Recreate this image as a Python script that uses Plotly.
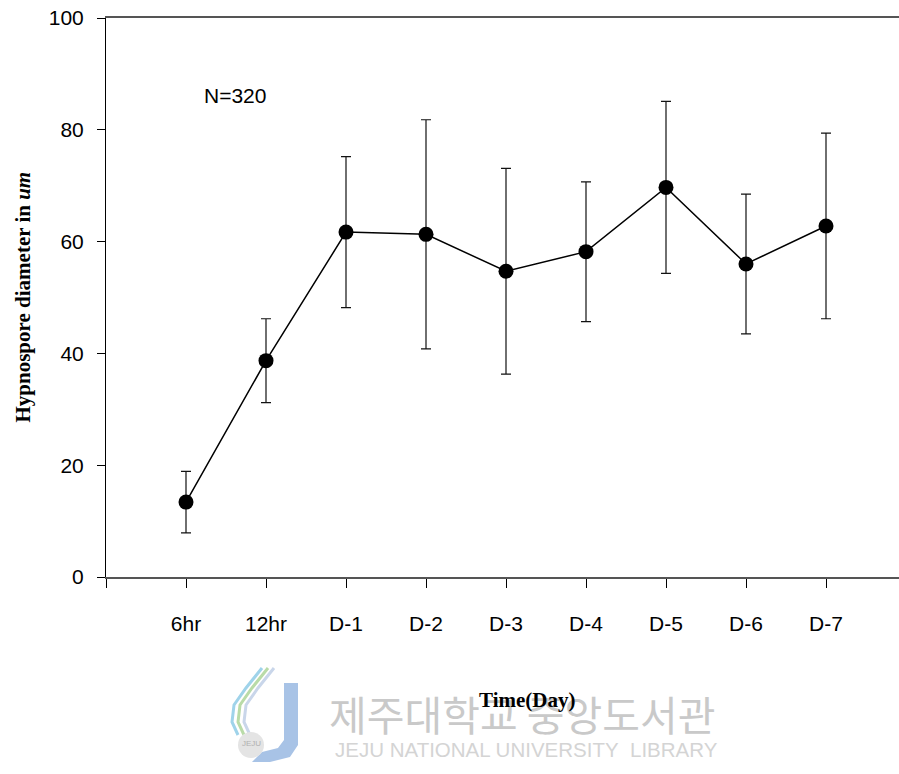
import plotly.graph_objects as go

# ---- data ----
categories = ["6hr", "12hr", "D-1", "D-2", "D-3", "D-4", "D-5", "D-6", "D-7"]
mean_diameter = [13.4, 38.7, 61.7, 61.3, 54.7, 58.2, 69.7, 56.0, 62.8]
std_dev = [5.5, 7.5, 13.5, 20.5, 18.4, 12.5, 15.4, 12.5, 16.6]
y_ticks = [0, 20, 40, 60, 80, 100]
n_label = "N=320"

positions = list(range(1, len(categories) + 1))

W, H = 899, 774
ml, mr, mt, mb = 106, 0, 18, 197
px_per_unit = 80.0
x_max = (W - ml - mr) / px_per_unit

fig = go.Figure()
fig.add_trace(go.Scatter(
    x=positions, y=mean_diameter,
    mode="lines+markers",
    line=dict(color="black", width=1.5),
    marker=dict(color="black", size=15),
    error_y=dict(type="data", array=std_dev, visible=True,
                 color="#111111", thickness=1.2, width=5),
    showlegend=False,
))

tick_font = dict(family="Liberation Sans, Arial, sans-serif", size=21, color="black")

fig.update_layout(
    width=W, height=H,
    margin=dict(l=ml, r=mr, t=mt, b=mb, pad=0),
    paper_bgcolor="white", plot_bgcolor="white",
    xaxis=dict(
        range=[0, x_max],
        tickmode="array",
        tickvals=[0] + positions,
        ticktext=[""] + categories,
        ticks="outside", ticklen=9, tickwidth=1, tickcolor="black",
        showline=True, linecolor="#555555", linewidth=1.5,
        mirror=True,
        showgrid=False, zeroline=False,
        tickfont=tick_font,
        ticklabelstandoff=18,
    ),
    yaxis=dict(
        range=[0, 100],
        tickmode="array",
        tickvals=y_ticks,
        ticks="outside", ticklen=8, tickwidth=1, tickcolor="black",
        showline=True, linecolor="black", linewidth=1,
        showgrid=False, zeroline=False,
        tickfont=tick_font,
        ticklabelstandoff=9,
    ),
)

pw = W - ml - mr
ph = H - mt - mb


def px_to_paper(xp, yp):
    return (xp - ml) / pw, (H - mb - yp) / ph


annotations = []

# watermark (drawn first, behind)
xl, yl = px_to_paper(251, 743)
annotations.append(dict(x=xl, y=yl, xref="paper", yref="paper",
                        text="JEJU", showarrow=False,
                        font=dict(family="Liberation Sans, Arial, sans-serif", size=8, color="#b0b0b0"),
                        xanchor="center", yanchor="middle"))
xe, ye = px_to_paper(526, 749)
annotations.append(dict(x=xe, y=ye, xref="paper", yref="paper",
                        text="JEJU NATIONAL UNIVERSITY&nbsp;&nbsp;LIBRARY", showarrow=False,
                        font=dict(family="Liberation Sans, Arial, sans-serif", size=20.5, color="#d4d4d4"),
                        xanchor="center", yanchor="middle"))
xk, yk = px_to_paper(522, 713)
annotations.append(dict(x=xk, y=yk, xref="paper", yref="paper",
                        text="제주대학교 중앙도서관", showarrow=False,
                        font=dict(family="Noto Sans CJK KR", size=41, color="#c9c9c9"),
                        xanchor="center", yanchor="middle"))

annotations.append(dict(x=1.616, y=86.2, xref="x", yref="y", text=n_label, showarrow=False,
                        font=tick_font, xanchor="center", yanchor="middle"))

xt, yt = px_to_paper(22, 297.5)
annotations.append(dict(x=xt, y=yt, xref="paper", yref="paper",
                        text="<b>Hypnospore diameter in <i>um</i></b>",
                        textangle=-90, showarrow=False,
                        font=dict(family="Liberation Serif, Times New Roman, serif", size=21, color="black"),
                        xanchor="center", yanchor="middle"))

xt2, yt2 = px_to_paper(527, 700)
annotations.append(dict(x=xt2, y=yt2, xref="paper", yref="paper",
                        text="<b>Time(Day)</b>", showarrow=False,
                        font=dict(family="Liberation Serif, Times New Roman, serif", size=21, color="black"),
                        xanchor="center", yanchor="middle"))

fig.update_layout(annotations=annotations)


def P(xp, yp):
    return px_to_paper(xp, yp)


def path(points):
    s = ""
    for i, (a, b) in enumerate(points):
        xa, yb = P(a, b)
        s += ("M" if i == 0 else "L") + f"{xa:.5f},{yb:.5f} "
    return s


shapes = []
shapes.append(dict(type="path", xref="paper", yref="paper",
                   path=path([(284, 683), (298, 683), (298, 745), (290, 757), (270, 762),
                              (252, 762), (262, 752), (278, 748), (284, 740)]) + "Z",
                   fillcolor="#a8c3e6", line=dict(width=0), layer="below"))
for col, dx in [("#9fd3ea", 0), ("#b9dba8", 6), ("#c9d6ea", 12)]:
    shapes.append(dict(type="path", xref="paper", yref="paper",
                       path=path([(262 + dx, 668), (246 + dx, 688), (234 + dx, 705),
                                  (232 + dx, 722), (238 + dx, 735)]),
                       line=dict(color=col, width=3), layer="below"))
xc0, yc0 = P(238, 732)
xc1, yc1 = P(264, 758)
shapes.append(dict(type="circle", xref="paper", yref="paper",
                   x0=xc0, y0=yc1, x1=xc1, y1=yc0,
                   fillcolor="#e4e4e4", line=dict(width=0), layer="below"))
fig.update_layout(shapes=shapes)

fig.write_html(
    "out.html",
    config={"displayModeBar": False},
    post_script="document.body.style.margin='0';document.body.style.padding='0';"
                "document.body.style.overflow='hidden';",
)
